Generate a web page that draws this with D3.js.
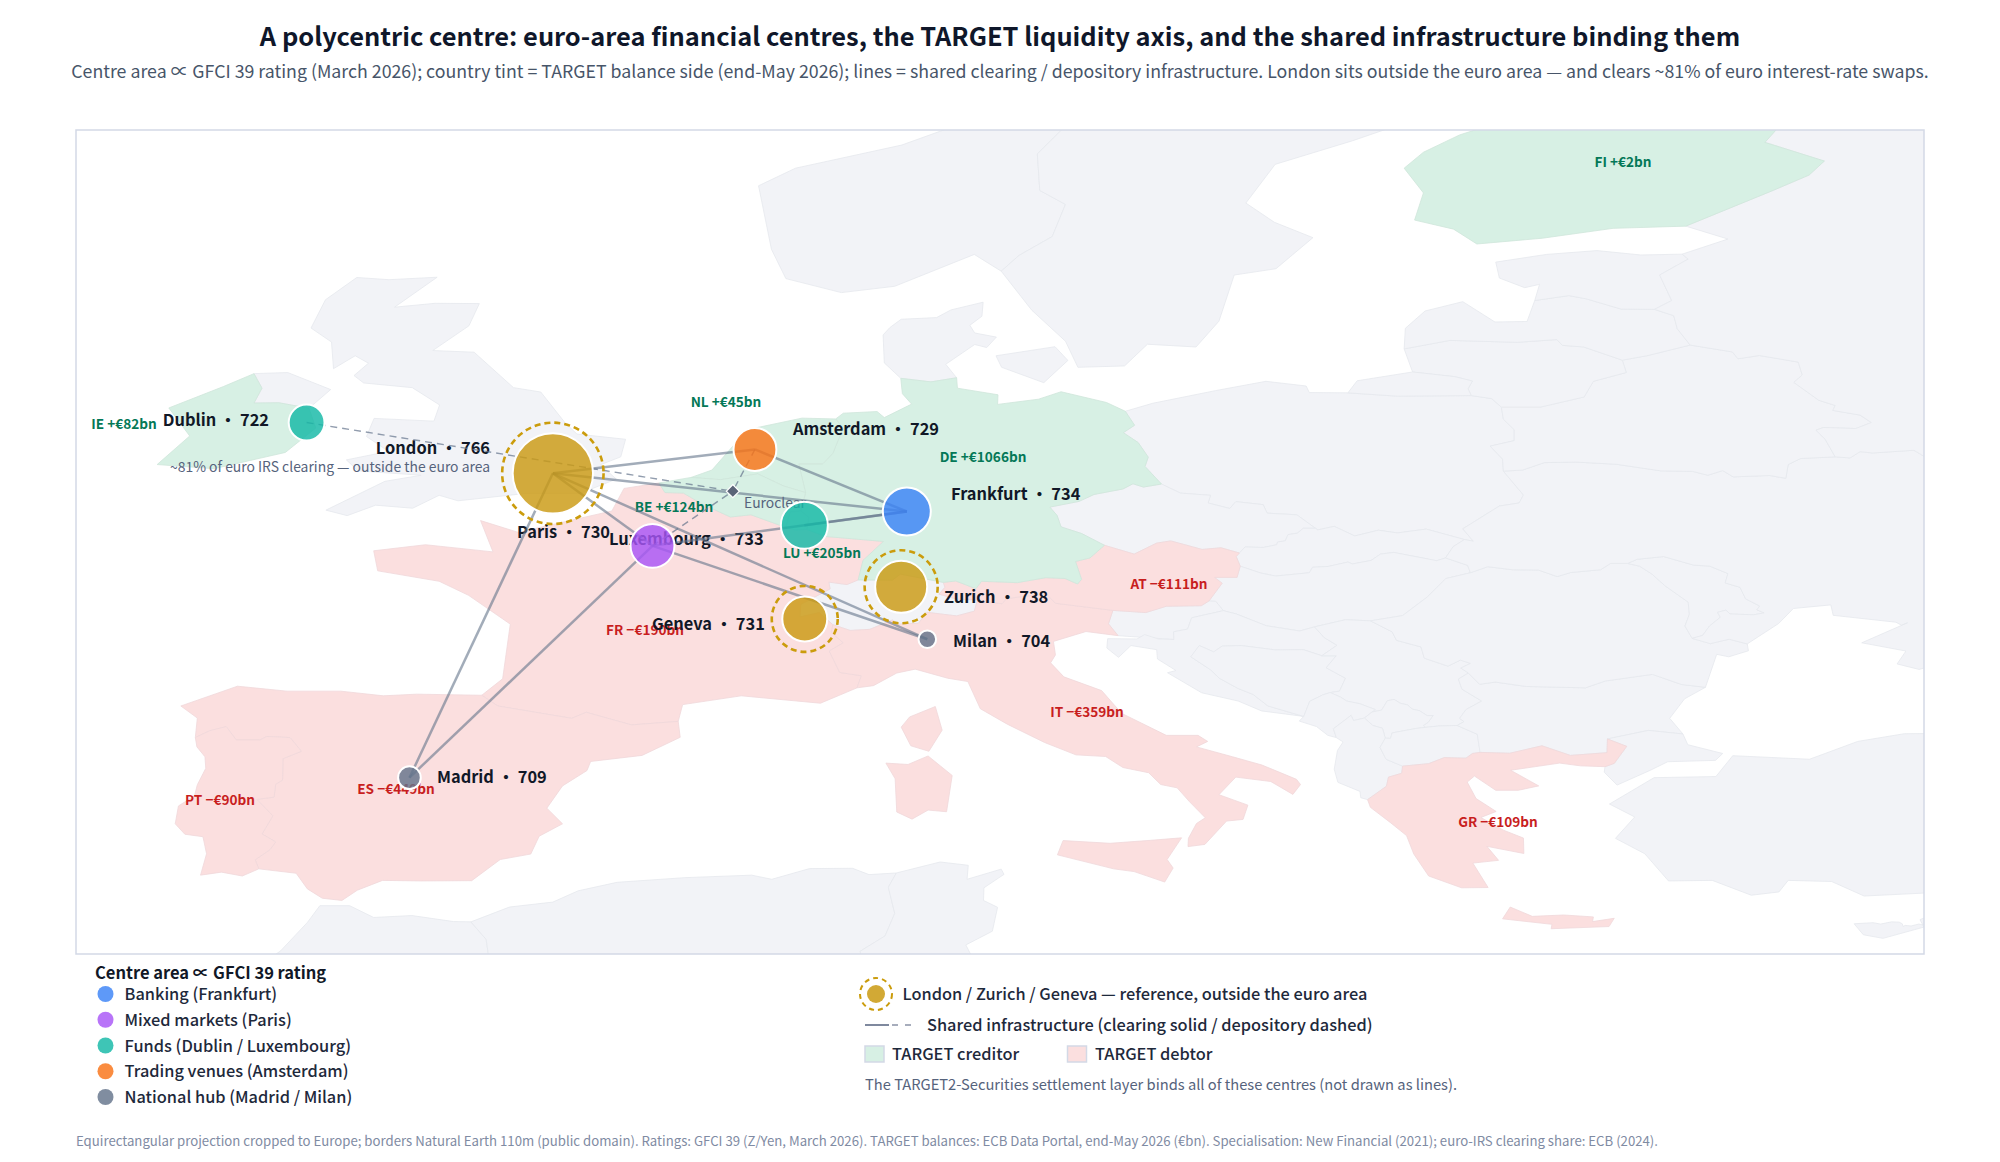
<!DOCTYPE html>
<html>
<head>
<meta charset="utf-8">
<title>A polycentric centre</title>
<style>
    html, body { margin: 0; background: #fff; }
    svg { display: block; font-family: "Noto Sans CJK SC", "Noto Sans", sans-serif; }
    .land { stroke-width: .8px; stroke-linejoin: round; }
    .title { font-size: 25.45px; font-weight: 700; fill: #0f172a; }
    .subtitle { font-size: 17.75px; fill: #475569; }
    .centre-label { font-size: 16.4px; font-weight: 700; fill: #111827; dominant-baseline: central; }
    .balance { font-size: 13.6px; font-weight: 700; text-anchor: middle; dominant-baseline: central; }
    .note { font-size: 13.9px; fill: #56637c; dominant-baseline: central; }
    .note-wide { font-size: 14.7px; fill: #56637c; dominant-baseline: central; }
    .legend-head { font-size: 16.5px; font-weight: 700; fill: #111827; dominant-baseline: central; }
    .legend-text { font-size: 16.35px; font-weight: 500; fill: #1e293b; dominant-baseline: central; }
    .footer { font-size: 13.19px; fill: #7f8ba3; dominant-baseline: central; }
</style>
</head>
<body>
<div id="chart"></div>
<script src="https://cdnjs.cloudflare.com/ajax/libs/d3/7.8.5/d3.min.js"></script>
<script>
// Country outlines, lon/lat
var france = [[[9.56,42.15],[9.23,41.38],[8.78,41.58],[8.54,42.26],[8.75,42.63],[9.39,43.01]],
    [[3.59,50.38],[4.29,49.91],[4.8,49.99],[5.67,49.53],[5.9,49.44],[6.19,49.46],[6.66,49.2],[8.1,49.02],[7.59,48.33],[7.47,47.62],[7.19,47.45],[6.74,47.54],[6.77,47.29],[6.04,46.73],[6.02,46.27],[6.5,46.43],[6.84,45.99],[6.8,45.71],[7.1,45.33],[6.75,45.03],[7.01,44.25],[7.55,44.13],[7.44,43.69],[6.53,43.13],[4.56,43.4],[3.1,43.08],[2.99,42.47],[1.83,42.34],[0.7,42.8],[0.34,42.58],[-1.5,43.03],[-1.9,43.42],[-1.38,44.02],[-1.19,46.01],[-2.23,47.06],[-2.96,47.57],[-4.49,47.95],[-4.59,48.68],[-3.3,48.9],[-1.62,48.64],[-1.93,49.78],[-0.99,49.35],[1.34,50.13],[1.64,50.95],[2.51,51.15],[2.66,50.8],[3.12,50.78]]];
var spain = [[[-9.03,41.88],[-8.98,42.59],[-9.39,43.03],[-7.98,43.75],[-6.75,43.57],[-5.41,43.57],[-4.35,43.4],[-3.52,43.46],[-1.9,43.42],[-1.5,43.03],[0.34,42.58],[0.7,42.8],[1.83,42.34],[2.99,42.47],[3.04,41.89],[2.09,41.23],[0.81,41.01],[0.72,40.68],[0.11,40.12],[-0.28,39.31],[0.11,38.74],[-0.47,38.29],[-0.68,37.64],[-1.44,37.44],[-2.15,36.67],[-3.42,36.66],[-4.37,36.68],[-5,36.32],[-5.38,35.95],[-5.87,36.03],[-6.24,36.37],[-6.52,36.94],[-7.45,37.1],[-7.54,37.43],[-7.17,37.8],[-7.03,38.08],[-7.37,38.37],[-7.1,39.03],[-7.5,39.63],[-7.07,39.71],[-7.03,40.18],[-6.86,40.33],[-6.85,41.11],[-6.39,41.38],[-6.67,41.88],[-7.25,41.92],[-7.42,41.79],[-8.01,41.79],[-8.26,42.28],[-8.67,42.13]]];
var portugal = [[[-9.03,41.88],[-8.67,42.13],[-8.26,42.28],[-8.01,41.79],[-7.42,41.79],[-7.25,41.92],[-6.67,41.88],[-6.39,41.38],[-6.85,41.11],[-6.86,40.33],[-7.03,40.18],[-7.07,39.71],[-7.5,39.63],[-7.1,39.03],[-7.37,38.37],[-7.03,38.08],[-7.17,37.8],[-7.54,37.43],[-7.45,37.1],[-7.86,36.84],[-8.38,36.98],[-8.9,36.87],[-8.75,37.65],[-8.84,38.27],[-9.29,38.36],[-9.53,38.74],[-9.45,39.39],[-9.05,39.76],[-8.98,40.16],[-8.77,40.76],[-8.79,41.18],[-8.99,41.54]]];
var italy = [[[15.52,38.23],[15.16,37.44],[15.31,37.13],[15.1,36.62],[14.34,37],[13.83,37.1],[12.43,37.61],[12.57,38.13],[13.74,38.03],[14.76,38.14]],
    [[9.21,41.21],[9.81,40.5],[9.67,39.18],[9.21,39.24],[8.81,38.91],[8.43,39.17],[8.39,40.38],[8.16,40.95],[8.71,40.9]],
    [[12.38,46.77],[13.81,46.51],[13.7,46.02],[13.94,45.59],[13.14,45.74],[12.33,45.38],[12.38,44.89],[12.26,44.6],[12.59,44.09],[13.53,43.59],[14.03,42.76],[15.14,41.96],[15.93,41.96],[16.17,41.74],[15.89,41.54],[16.79,41.18],[17.52,40.88],[18.38,40.36],[18.48,40.17],[18.29,39.81],[17.74,40.28],[16.87,40.44],[16.45,39.8],[17.17,39.42],[17.05,38.9],[16.64,38.84],[16.1,37.99],[15.68,37.91],[15.69,38.21],[15.89,38.75],[16.11,38.96],[15.72,39.54],[15.41,40.05],[15,40.17],[14.7,40.6],[14.06,40.79],[13.63,41.19],[12.89,41.25],[12.11,41.7],[11.19,42.36],[10.51,42.93],[10.2,43.92],[9.7,44.04],[8.89,44.37],[8.43,44.23],[7.85,43.77],[7.44,43.69],[7.55,44.13],[7.01,44.25],[6.75,45.03],[7.1,45.33],[6.8,45.71],[6.84,45.99],[7.27,45.78],[7.76,45.82],[8.32,46.16],[8.49,46.01],[8.97,46.04],[9.18,46.44],[9.92,46.31],[10.36,46.48],[10.44,46.89],[11.05,46.75],[11.16,46.94],[12.15,47.12]]];
var germany = [[[9.92,54.98],[9.94,54.6],[10.95,54.36],[10.94,54.01],[11.96,54.2],[12.52,54.47],[13.65,54.08],[14.12,53.76],[14.35,53.25],[14.07,52.98],[14.44,52.62],[14.69,52.09],[14.61,51.75],[15.02,51.11],[14.57,51],[14.31,51.12],[14.06,50.93],[13.34,50.73],[12.97,50.48],[12.24,50.27],[12.42,49.97],[12.52,49.55],[13.03,49.31],[13.6,48.88],[13.24,48.42],[12.88,48.29],[13.03,47.64],[12.93,47.47],[12.62,47.67],[12.14,47.7],[11.43,47.52],[10.54,47.57],[10.4,47.3],[9.9,47.58],[9.59,47.53],[8.52,47.83],[8.32,47.61],[7.47,47.62],[7.59,48.33],[8.1,49.02],[6.66,49.2],[6.19,49.46],[6.24,49.9],[6.04,50.13],[6.16,50.8],[5.99,51.85],[6.59,51.85],[6.84,52.23],[7.09,53.14],[6.91,53.48],[7.1,53.69],[7.94,53.75],[8.12,53.53],[8.8,54.02],[8.57,54.4],[8.53,54.96],[9.28,54.83]]];
var belgium = [[[3.31,51.35],[4.05,51.27],[4.97,51.48],[5.61,51.04],[6.16,50.8],[6.04,50.13],[5.78,50.09],[5.67,49.53],[4.8,49.99],[4.29,49.91],[3.59,50.38],[3.12,50.78],[2.66,50.8],[2.51,51.15]]];
var netherlands = [[[6.07,53.51],[6.91,53.48],[7.09,53.14],[6.84,52.23],[6.59,51.85],[5.99,51.85],[6.16,50.8],[5.61,51.04],[4.97,51.48],[4.05,51.27],[3.31,51.35],[3.83,51.62],[4.71,53.09]]];
var luxembourg = [[[6.04,50.13],[6.24,49.9],[6.19,49.46],[5.9,49.44],[5.67,49.53],[5.78,50.09]]];
var ireland = [[[-6.2,53.87],[-6.03,53.15],[-6.79,52.26],[-8.56,51.67],[-9.98,51.82],[-9.17,52.86],[-9.69,53.88],[-8.33,54.66],[-7.57,55.13],[-7.37,54.6],[-7.57,54.06],[-6.95,54.07]]];
var finland = [[[28.59,69.06],[28.45,68.36],[29.98,67.7],[29.05,66.94],[30.22,65.81],[29.54,64.95],[30.44,64.2],[30.04,63.55],[31.52,62.87],[31.14,62.36],[30.21,61.78],[28.07,60.5],[26.26,60.42],[24.5,60.06],[22.87,59.85],[22.29,60.39],[21.32,60.72],[21.54,61.71],[21.06,62.61],[21.54,63.19],[22.44,63.82],[24.73,64.9],[25.4,65.11],[25.29,65.53],[23.9,66.01],[23.57,66.4],[23.54,67.94],[21.98,68.62],[20.65,69.11]]];
var austria = [[[16.98,48.12],[16.9,47.71],[16.34,47.71],[16.53,47.5],[16.2,46.85],[16.01,46.68],[15.14,46.66],[14.63,46.43],[13.81,46.51],[12.38,46.77],[12.15,47.12],[11.16,46.94],[11.05,46.75],[10.44,46.89],[9.93,46.92],[9.48,47.1],[9.63,47.35],[9.59,47.53],[9.9,47.58],[10.4,47.3],[10.54,47.57],[11.43,47.52],[12.14,47.7],[12.62,47.67],[12.93,47.47],[13.03,47.64],[12.88,48.29],[13.24,48.42],[13.6,48.88],[14.34,48.56],[14.9,48.96],[15.25,49.04],[16.03,48.73],[16.5,48.79],[16.96,48.6],[16.88,48.47]]];
var greece = [[[23.7,35.71],[24.25,35.37],[25.03,35.42],[25.77,35.35],[25.75,35.18],[26.29,35.3],[26.16,35],[24.72,34.92],[24.74,35.08],[23.51,35.28]],
    [[26.6,41.56],[26.29,40.94],[26.06,40.82],[25.45,40.85],[24.93,40.95],[23.71,40.69],[24.41,40.12],[23.9,39.96],[23.34,39.96],[22.81,40.48],[22.63,40.26],[22.85,39.66],[23.35,39.19],[22.97,38.97],[23.53,38.51],[24.03,38.22],[24.04,37.66],[23.12,37.92],[23.41,37.41],[22.77,37.31],[23.15,36.42],[22.49,36.41],[21.67,36.84],[21.3,37.64],[21.12,38.31],[20.73,38.77],[20.22,39.34],[20.15,39.62],[20.62,40.11],[20.67,40.44],[21,40.58],[21.02,40.84],[21.67,40.93],[22.06,41.15],[22.6,41.13],[22.76,41.3],[22.95,41.34],[23.69,41.31],[24.49,41.58],[25.2,41.23],[26.11,41.33],[26.12,41.83]]];
var uk = [[[-5.66,54.55],[-6.2,53.87],[-6.95,54.07],[-7.57,54.06],[-7.37,54.6],[-7.57,55.13],[-6.73,55.17]],
    [[-3.01,58.64],[-4.07,57.55],[-3.06,57.69],[-1.96,57.68],[-2.22,56.87],[-3.12,55.97],[-2.09,55.91],[-1.11,54.62],[-0.43,54.46],[0.18,53.33],[0.47,52.93],[1.68,52.74],[1.56,52.1],[1.05,51.81],[1.45,51.29],[0.55,50.77],[-0.79,50.77],[-2.49,50.5],[-2.96,50.7],[-3.62,50.23],[-4.54,50.34],[-5.25,49.96],[-5.78,50.16],[-4.31,51.21],[-3.41,51.43],[-4.98,51.59],[-5.27,51.99],[-4.22,52.3],[-4.77,52.84],[-4.58,53.5],[-3.09,53.4],[-2.95,53.99],[-3.63,54.62],[-4.84,54.79],[-5.08,55.06],[-4.72,55.51],[-5.05,55.78],[-5.59,55.31],[-5.64,56.28],[-6.15,56.79],[-5.79,57.82],[-5.01,58.63],[-4.21,58.55]]];
var switzerland = [[[9.59,47.53],[9.63,47.35],[9.48,47.1],[9.93,46.92],[10.44,46.89],[10.36,46.48],[9.92,46.31],[9.18,46.44],[8.97,46.04],[8.49,46.01],[8.32,46.16],[7.76,45.82],[7.27,45.78],[6.84,45.99],[6.5,46.43],[6.02,46.27],[6.04,46.73],[6.77,47.29],[6.74,47.54],[7.19,47.45],[7.47,47.62],[8.32,47.61],[8.52,47.83]]];
var norway = [[[13.56,64.79],[13.92,64.45],[13.57,64.05],[12.58,64.07],[11.93,63.13],[11.99,61.8],[12.63,61.29],[12.3,60.12],[11.47,59.43],[11.03,58.86],[10.36,59.47],[8.38,58.31],[7.05,58.08],[5.67,58.59],[5.31,59.66],[4.99,61.97],[5.91,62.61],[8.55,63.45],[10.53,64.49]]];
var sweden = [[[11.03,58.86],[11.47,59.43],[12.3,60.12],[12.63,61.29],[11.99,61.8],[11.93,63.13],[12.58,64.07],[13.57,64.05],[13.92,64.45],[13.56,64.79],[15.11,66.19],[23.57,66.4],[23.9,66.01],[22.18,65.72],[21.21,65.03],[21.37,64.41],[19.78,63.61],[17.85,62.75],[17.12,61.34],[17.83,60.64],[18.79,60.08],[17.87,58.95],[16.83,58.72],[16.45,57.04],[15.88,56.1],[14.67,56.2],[14.1,55.41],[12.94,55.36],[12.63,56.31],[11.79,57.44]]];
var denmark = [[[12.69,55.61],[12.09,54.8],[11.04,55.36],[10.9,55.78],[12.37,56.11]],
    [[10.91,56.46],[10.67,56.08],[10.37,56.19],[9.65,55.47],[9.92,54.98],[9.28,54.83],[8.53,54.96],[8.12,55.52],[8.09,56.54],[8.26,56.81],[8.54,57.11],[9.42,57.17],[9.78,57.45],[10.58,57.73],[10.55,57.22],[10.25,56.89],[10.37,56.61]]];
var poland = [[[15.02,51.11],[14.61,51.75],[14.69,52.09],[14.44,52.62],[14.07,52.98],[14.35,53.25],[14.12,53.76],[14.8,54.05],[16.36,54.51],[17.62,54.85],[18.62,54.68],[18.7,54.44],[19.66,54.43],[20.89,54.31],[22.73,54.33],[23.24,54.22],[23.48,53.91],[23.53,53.47],[23.8,53.09],[23.8,52.69],[23.2,52.49],[23.51,52.02],[23.53,51.58],[24.03,50.71],[23.92,50.42],[23.43,50.31],[22.52,49.48],[22.78,49.03],[22.56,49.09],[21.61,49.47],[20.89,49.33],[20.42,49.43],[19.83,49.22],[19.32,49.57],[18.91,49.44],[18.85,49.5],[18.39,49.99],[17.65,50.05],[17.55,50.36],[16.87,50.47],[16.72,50.22],[16.18,50.42],[16.24,50.7],[15.49,50.78]]];
var czechia = [[[16.96,48.6],[16.5,48.79],[16.03,48.73],[15.25,49.04],[14.9,48.96],[14.34,48.56],[13.6,48.88],[13.03,49.31],[12.52,49.55],[12.42,49.97],[12.24,50.27],[12.97,50.48],[13.34,50.73],[14.06,50.93],[14.31,51.12],[14.57,51],[15.02,51.11],[15.49,50.78],[16.24,50.7],[16.18,50.42],[16.72,50.22],[16.87,50.47],[17.55,50.36],[17.65,50.05],[18.39,49.99],[18.85,49.5],[18.55,49.5],[18.4,49.32],[18.17,49.27],[18.1,49.04],[17.91,49],[17.89,48.9],[17.55,48.8],[17.1,48.82]]];
var slovakia = [[[18.85,49.5],[18.91,49.44],[19.32,49.57],[19.83,49.22],[20.42,49.43],[20.89,49.33],[21.61,49.47],[22.56,49.09],[22.28,48.83],[22.09,48.42],[21.87,48.32],[20.8,48.62],[20.47,48.56],[20.24,48.33],[19.77,48.2],[19.66,48.27],[19.17,48.11],[18.78,48.08],[18.7,47.88],[17.86,47.76],[17.49,47.87],[16.98,48.12],[16.88,48.47],[16.96,48.6],[17.1,48.82],[17.55,48.8],[17.89,48.9],[17.91,49],[18.1,49.04],[18.17,49.27],[18.4,49.32],[18.55,49.5]]];
var hungary = [[[16.2,46.85],[16.53,47.5],[16.34,47.71],[16.9,47.71],[16.98,48.12],[17.49,47.87],[17.86,47.76],[18.7,47.88],[18.78,48.08],[19.17,48.11],[19.66,48.27],[19.77,48.2],[20.24,48.33],[20.47,48.56],[20.8,48.62],[21.87,48.32],[22.09,48.42],[22.64,48.15],[22.71,47.88],[22.1,47.67],[21.63,46.99],[21.02,46.32],[20.22,46.13],[19.6,46.17],[18.83,45.91],[18.46,45.76],[17.63,45.95],[16.88,46.38],[16.56,46.5],[16.37,46.84]]];
var slovenia = [[[13.81,46.51],[14.63,46.43],[15.14,46.66],[16.01,46.68],[16.2,46.85],[16.37,46.84],[16.56,46.5],[15.77,46.24],[15.67,45.83],[15.32,45.73],[15.33,45.45],[13.94,45.59],[13.7,46.02]]];
var croatia = [[[18.83,45.91],[19.07,45.52],[19.39,45.24],[19.01,44.86],[18.55,45.08],[17.86,45.07],[17,45.23],[16.53,45.21],[16.32,45],[15.96,45.23],[15.75,44.82],[16.24,44.35],[16.46,44.04],[16.92,43.67],[17.3,43.45],[17.67,43.03],[18.56,42.65],[17.51,42.85],[16.93,43.21],[16.02,43.51],[15.17,44.24],[15.38,44.32],[14.92,44.74],[14.9,45.08],[14.26,45.23],[13.95,44.8],[13.66,45.14],[13.68,45.48],[14.41,45.47],[14.6,45.63],[14.94,45.47],[15.33,45.45],[15.32,45.73],[15.67,45.83],[15.77,46.24],[16.56,46.5],[16.88,46.38],[17.63,45.95],[18.46,45.76]]];
var bosnia = [[[19.01,44.86],[19.37,44.86],[19.12,44.42],[19.6,44.04],[19.45,43.57],[19.22,43.52],[19.03,43.43],[18.71,43.2],[18.56,42.65],[17.67,43.03],[17.3,43.45],[16.92,43.67],[16.46,44.04],[16.24,44.35],[15.75,44.82],[15.96,45.23],[16.32,45],[16.53,45.21],[17,45.23],[17.86,45.07],[18.55,45.08]]];
var serbia = [[[20.87,45.42],[21.48,45.18],[21.56,44.77],[22.15,44.48],[22.46,44.7],[22.71,44.58],[22.47,44.41],[22.66,44.23],[22.41,44.01],[22.5,43.64],[22.99,43.21],[22.6,42.9],[22.44,42.58],[22.55,42.46],[22.38,42.32],[21.92,42.3],[21.58,42.25],[21.54,42.32],[21.66,42.44],[21.78,42.68],[21.63,42.68],[21.44,42.86],[21.27,42.91],[21.14,43.07],[20.96,43.13],[20.81,43.27],[20.64,43.22],[20.5,42.88],[20.26,42.81],[20.34,42.9],[19.96,43.11],[19.63,43.21],[19.48,43.35],[19.22,43.52],[19.45,43.57],[19.6,44.04],[19.12,44.42],[19.37,44.86],[19.01,44.86],[19.39,45.24],[19.07,45.52],[18.83,45.91],[19.6,46.17],[20.22,46.13],[20.76,45.73]]];
var montenegro = [[[19.8,42.5],[19.74,42.69],[19.3,42.2],[19.37,41.88],[19.16,41.96],[18.88,42.28],[18.45,42.48],[18.56,42.65],[18.71,43.2],[19.03,43.43],[19.22,43.52],[19.48,43.35],[19.63,43.21],[19.96,43.11],[20.34,42.9],[20.26,42.81],[20.07,42.59]]];
var kosovo = [[[20.76,42.05],[20.72,41.85],[20.59,41.86],[20.52,42.22],[20.28,42.32],[20.07,42.59],[20.26,42.81],[20.5,42.88],[20.64,43.22],[20.81,43.27],[20.96,43.13],[21.14,43.07],[21.27,42.91],[21.44,42.86],[21.63,42.68],[21.78,42.68],[21.66,42.44],[21.54,42.32],[21.58,42.25],[21.35,42.21]]];
var albania = [[[20.59,41.86],[20.46,41.52],[20.61,41.09],[21.02,40.84],[21,40.58],[20.67,40.44],[20.62,40.11],[20.15,39.62],[19.98,39.69],[19.96,39.92],[19.41,40.25],[19.32,40.73],[19.4,41.41],[19.54,41.72],[19.37,41.88],[19.3,42.2],[19.74,42.69],[19.8,42.5],[20.07,42.59],[20.28,42.32],[20.52,42.22]]];
var macedonia = [[[20.59,41.86],[20.72,41.85],[20.76,42.05],[21.35,42.21],[21.58,42.25],[21.92,42.3],[22.38,42.32],[22.88,42],[22.95,41.34],[22.76,41.3],[22.6,41.13],[22.06,41.15],[21.67,40.93],[21.02,40.84],[20.61,41.09],[20.46,41.52]]];
var bulgaria = [[[22.66,44.23],[22.94,43.82],[23.33,43.9],[24.1,43.74],[25.57,43.69],[26.07,43.94],[27.24,44.18],[27.97,43.81],[28.56,43.71],[28.04,43.29],[27.67,42.58],[28,42.01],[27.14,42.14],[26.12,41.83],[26.11,41.33],[25.2,41.23],[24.49,41.58],[23.69,41.31],[22.95,41.34],[22.88,42],[22.38,42.32],[22.55,42.46],[22.44,42.58],[22.6,42.9],[22.99,43.21],[22.5,43.64],[22.41,44.01]]];
var romania = [[[22.71,47.88],[23.14,48.1],[23.76,47.99],[24.4,47.98],[24.87,47.74],[25.21,47.89],[25.95,47.99],[26.2,48.22],[26.62,48.22],[26.92,48.12],[27.23,47.83],[27.55,47.41],[28.13,46.81],[28.16,46.37],[28.05,45.94],[28.23,45.49],[28.68,45.3],[29.15,45.46],[29.6,45.29],[29.63,45.04],[29.14,44.82],[28.84,44.91],[28.56,43.71],[27.97,43.81],[27.24,44.18],[26.07,43.94],[25.57,43.69],[24.1,43.74],[23.33,43.9],[22.94,43.82],[22.66,44.23],[22.47,44.41],[22.71,44.58],[22.46,44.7],[22.15,44.48],[21.56,44.77],[21.48,45.18],[20.87,45.42],[20.76,45.73],[20.22,46.13],[21.02,46.32],[21.63,46.99],[22.1,47.67]]];
var moldova = [[[26.62,48.22],[26.86,48.37],[27.52,48.47],[28.26,48.16],[28.67,48.12],[29.12,47.85],[29.05,47.51],[29.42,47.35],[29.56,46.93],[29.91,46.67],[29.84,46.53],[30.02,46.42],[29.76,46.35],[29.17,46.38],[29.07,46.52],[28.86,46.44],[28.93,46.26],[28.66,45.94],[28.49,45.6],[28.23,45.49],[28.05,45.94],[28.16,46.37],[28.13,46.81],[27.55,47.41],[27.23,47.83],[26.92,48.12]]];
var ukraine = [[[31.79,52.1],[32.16,52.06],[32.41,52.29],[32.72,52.24],[33.75,52.34],[34.39,51.77],[34.14,51.57],[34.22,51.26],[35.02,51.21],[35.38,50.77],[35.36,50.58],[36.63,50.23],[37.39,50.38],[38.01,49.92],[38.59,49.93],[40.07,49.6],[40.08,49.31],[39.67,48.78],[39.9,48.23],[39.74,47.9],[38.77,47.83],[38.26,47.55],[38.22,47.1],[37.43,47.02],[36.76,46.7],[35.82,46.65],[34.96,46.27],[35.02,45.74],[36.5,45.4],[35.24,44.94],[33.88,44.36],[33.33,44.56],[33.55,45.03],[32.45,45.33],[33.59,46.06],[33.44,45.97],[33.3,46.08],[31.74,46.33],[31.68,46.71],[30.75,46.58],[30.38,46.03],[29.6,45.29],[29.15,45.46],[28.68,45.3],[28.23,45.49],[28.49,45.6],[28.66,45.94],[28.93,46.26],[28.86,46.44],[29.07,46.52],[29.17,46.38],[29.76,46.35],[30.02,46.42],[29.84,46.53],[29.91,46.67],[29.56,46.93],[29.42,47.35],[29.05,47.51],[29.12,47.85],[28.67,48.12],[28.26,48.16],[27.52,48.47],[26.86,48.37],[26.62,48.22],[26.2,48.22],[25.95,47.99],[25.21,47.89],[24.87,47.74],[24.4,47.98],[23.76,47.99],[23.14,48.1],[22.71,47.88],[22.64,48.15],[22.09,48.42],[22.28,48.83],[22.56,49.09],[22.78,49.03],[22.52,49.48],[23.43,50.31],[23.92,50.42],[24.03,50.71],[23.53,51.58],[24.01,51.62],[24.55,51.89],[25.33,51.91],[26.34,51.83],[27.45,51.59],[28.24,51.57],[28.62,51.43],[28.99,51.6],[29.25,51.37],[30.16,51.42],[30.56,51.32],[30.62,51.82],[30.93,52.04]]];
var belarus = [[[23.48,53.91],[24.45,53.91],[25.54,54.28],[25.77,54.85],[26.59,55.17],[26.49,55.62],[27.1,55.78],[28.18,56.17],[29.23,55.92],[29.37,55.67],[29.9,55.79],[30.87,55.55],[30.97,55.08],[30.76,54.81],[31.38,54.16],[31.79,53.97],[31.73,53.79],[32.41,53.62],[32.69,53.35],[32.3,53.13],[31.5,53.17],[31.31,53.07],[31.54,52.74],[31.79,52.1],[30.93,52.04],[30.62,51.82],[30.56,51.32],[30.16,51.42],[29.25,51.37],[28.99,51.6],[28.62,51.43],[28.24,51.57],[27.45,51.59],[26.34,51.83],[25.33,51.91],[24.55,51.89],[24.01,51.62],[23.53,51.58],[23.51,52.02],[23.2,52.49],[23.8,52.69],[23.8,53.09],[23.53,53.47]]];
var lithuania = [[[22.73,54.33],[22.65,54.58],[22.76,54.86],[22.32,55.02],[21.27,55.19],[21.06,56.03],[22.2,56.34],[23.88,56.27],[24.86,56.37],[25,56.16],[25.53,56.1],[26.49,55.62],[26.59,55.17],[25.77,54.85],[25.54,54.28],[24.45,53.91],[23.48,53.91],[23.24,54.22]]];
var latvia = [[[21.06,56.03],[21.09,56.78],[21.58,57.41],[22.52,57.75],[23.32,57.01],[24.12,57.03],[24.31,57.79],[25.16,57.97],[25.6,57.85],[26.46,57.48],[27.29,57.47],[27.77,57.24],[27.86,56.76],[28.18,56.17],[27.1,55.78],[26.49,55.62],[25.53,56.1],[25,56.16],[24.86,56.37],[23.88,56.27],[22.2,56.34]]];
var estonia = [[[24.31,57.79],[24.43,58.38],[24.06,58.26],[23.43,58.61],[23.34,59.19],[24.6,59.47],[25.86,59.61],[26.95,59.45],[27.98,59.48],[28.13,59.3],[27.42,58.72],[27.72,57.79],[27.29,57.47],[26.46,57.48],[25.6,57.85],[25.16,57.97]]];
var kaliningrad = [[[21.27,55.19],[22.32,55.02],[22.76,54.86],[22.65,54.58],[22.73,54.33],[20.89,54.31],[19.66,54.43],[19.89,54.87]]];
var russia = [[[27.98,59.48],[29.12,60.03],[28.07,60.5],[30.21,61.78],[31.14,62.36],[31.52,62.87],[30.04,63.55],[30.44,64.2],[29.54,64.95],[30.22,65.81],[40,66],[40,47],[38.22,47.1],[38.26,47.55],[38.77,47.83],[39.74,47.9],[39.9,48.23],[39.67,48.78],[40.08,49.31],[40.07,49.6],[38.59,49.93],[38.01,49.92],[37.39,50.38],[36.63,50.23],[35.36,50.58],[35.38,50.77],[35.02,51.21],[34.22,51.26],[34.14,51.57],[34.39,51.77],[33.75,52.34],[32.72,52.24],[32.41,52.29],[32.16,52.06],[31.79,52.1],[31.54,52.74],[31.31,53.07],[31.5,53.17],[32.3,53.13],[32.69,53.35],[32.41,53.62],[31.73,53.79],[31.79,53.97],[31.38,54.16],[30.76,54.81],[30.97,55.08],[30.87,55.55],[29.9,55.79],[29.37,55.67],[29.23,55.92],[28.18,56.17],[27.86,56.76],[27.77,57.24],[27.29,57.47],[27.72,57.79],[27.42,58.72],[28.13,59.3]]];
var turkey = [[[36.91,41.34],[36.16,36.65],[35.55,36.57],[34.71,36.8],[34.03,36.22],[32.51,36.11],[31.7,36.64],[30.62,36.68],[30.39,36.26],[29.7,36.14],[28.73,36.68],[27.64,36.66],[27.05,37.65],[26.32,38.21],[26.8,38.99],[26.17,39.46],[27.28,40.42],[28.82,40.46],[29.24,41.22],[31.15,41.09],[32.35,41.74],[33.51,42.02],[35.17,42.04]],
    [[26.12,41.83],[27.14,42.14],[28,42.01],[28.12,41.62],[28.99,41.3],[28.81,41.05],[27.62,41],[27.19,40.69],[26.36,40.15],[26.04,40.62],[26.06,40.82],[26.29,40.94],[26.6,41.56]]];
var cyprus = [[[34.58,35.67],[33.9,35.25],[34,34.98],[32.98,34.57],[32.49,34.7],[32.26,35.1],[32.73,35.14],[32.92,35.09],[33.19,35.17],[33.38,35.16],[33.46,35.1],[33.48,35],[33.53,35.04],[33.68,35.02],[33.87,35.09],[33.97,35.06]]];
var morocco = [[[-5.93,35.76],[-5.19,35.76],[-4.59,35.33],[-3.64,35.4],[-2.6,35.18],[-2.17,35.17],[-1.79,34.53],[-1.73,33.92],[-1.5,32],[-9,32],[-6.91,34.11],[-6.24,35.15]]];
var algeria = [[[-2.17,35.17],[-1.21,35.71],[-0.13,35.89],[0.5,36.3],[1.47,36.61],[3.16,36.78],[4.82,36.87],[5.32,36.72],[6.26,37.11],[7.33,37.12],[7.74,36.89],[8.42,36.95],[8.22,36.43],[8.38,35.48],[8.14,34.66],[7.52,34.1],[7.61,33.34],[8.43,32.75],[8.5,32],[-1.5,32],[-1.73,33.92],[-1.79,34.53]]];
var tunisia = [[[8.43,32.75],[7.61,33.34],[7.52,34.1],[8.14,34.66],[8.38,35.48],[8.22,36.43],[8.42,36.95],[9.51,37.35],[10.21,37.23],[10.18,36.72],[11.03,37.09],[11.1,36.9],[10.6,36.41],[10.59,35.95],[10.94,35.7],[10.81,34.83],[10.15,34.33],[10.34,33.79],[10.86,33.77],[11.11,33.29],[11.49,33.14],[11.43,32.37]]];

var otherLand = [uk, switzerland, norway, sweden, denmark, poland, czechia, slovakia, hungary, slovenia, croatia, bosnia, serbia, montenegro, kosovo, albania, macedonia, bulgaria, romania, moldova, ukraine, belarus, lithuania, latvia, estonia, kaliningrad, russia, turkey, cyprus, morocco, algeria, tunisia];
var creditorLand = [germany, netherlands, belgium, luxembourg, ireland, finland];
var debtorLand = [france, spain, portugal, italy, austria, greece];

// TARGET balances (end-May 2026, EUR bn)
var balanceCodes = ["IE", "NL", "DE", "BE", "LU", "FI", "AT", "FR", "IT", "ES", "PT", "GR"];
var balanceValues = [82, 45, 1066, 124, 205, 2, -111, -190, -359, -449, -90, -109];

// Financial centres
var centreNames = ["Dublin", "London", "Paris", "Luxembourg", "Amsterdam", "Frankfurt", "Zurich", "Geneva", "Milan", "Madrid"];
var centreLon = [-6.26, -0.13, 2.35, 6.13, 4.9, 8.68, 8.54, 6.14, 9.19, -3.7];
var centreLat = [53.35, 51.5, 48.86, 49.61, 52.37, 50.11, 47.37, 46.2, 45.46, 40.42];
var centreRating = [722, 766, 730, 733, 729, 734, 738, 731, 704, 709];
var centreType = ["funds", "ref", "mixed", "funds", "venue", "bank", "ref", "ref", "hub", "hub"];

// Euroclear depository, Brussels
var euroclearLon = 4.35, euroclearLat = 50.85;

var clearingLinks = [["London", "Amsterdam"], ["London", "Frankfurt"], ["London", "Paris"], ["London", "Milan"], ["London", "Madrid"],
    ["Paris", "Frankfurt"], ["Paris", "Milan"], ["Paris", "Madrid"], ["Amsterdam", "Frankfurt"], ["Luxembourg", "Frankfurt"]];
var depositoryLinks = ["Dublin", "Amsterdam", "Paris"];

var legendLabels = ["Banking (Frankfurt)", "Mixed markets (Paris)", "Funds (Dublin / Luxembourg)", "Trading venues (Amsterdam)", "National hub (Madrid / Milan)"];
var legendTypes = ["bank", "mixed", "funds", "venue", "hub"];

// ---- layout and styles
var width = 2000, height = 1162;
var panel = {x0: 76, x1: 1924, y0: 130, y1: 954};
var typeColor = {bank: "#3b82f6", mixed: "#a855f7", funds: "#14b8a6", venue: "#f97316", hub: "#64748b", ref: "#ca9a12"};
var sideColor = {other: "#f2f3f7", creditor: "#d7f0e4", debtor: "#fbdfdf"};
var sideStroke = {other: "#e6e8ee", creditor: "#cfe6da", debtor: "#f0d8da"};

var centreLabelPos = {
    Dublin: [269, 419, "end"], London: [490, 447, "end"], Paris: [517, 531, "start"], Luxembourg: [609, 538, "start"],
    Amsterdam: [793, 428, "start"], Frankfurt: [951, 493, "start"], Zurich: [944, 596, "start"], Geneva: [652, 623, "start"],
    Milan: [953, 640, "start"], Madrid: [437, 776, "start"]
};
var balanceLabelPos = {
    IE: [124, 423], NL: [726, 401], DE: [983, 456], BE: [674, 506], LU: [822, 552], FI: [1623, 161],
    AT: [1169, 583], FR: [645, 629], IT: [1087, 711], ES: [396, 788], PT: [220, 799], GR: [1498, 821]
};

var x = d3.scaleLinear().domain([-12, 34]).range([panel.x0, panel.x1]);
var y = d3.scaleLinear().domain([64, 34]).range([panel.y0, panel.y1]);
var radius = d3.scaleLinear().domain([704, 766]).range([8.8, 40.2]);
var path = d3.geoPath(d3.geoTransform({
    point: function (lon, lat) { this.stream.point(x(lon), y(lat)); }
}));

var svg = d3.select("#chart").append("svg").attr("width", width).attr("height", height);

svg.append("text").attr("class", "title").attr("x", 1000).attr("y", 46).attr("text-anchor", "middle")
    .text("A polycentric centre: euro-area financial centres, the TARGET liquidity axis, and the shared infrastructure binding them");
svg.append("text").attr("class", "subtitle").attr("x", 1000).attr("y", 78).attr("text-anchor", "middle")
    .text("Centre area \u221d GFCI 39 rating (March 2026); country tint = TARGET balance side (end-May 2026); lines = shared clearing / depository infrastructure. London sits outside the euro area \u2014 and clears ~81% of euro interest-rate swaps.");

svg.append("clipPath").attr("id", "panel-clip").append("rect")
    .attr("x", panel.x0).attr("y", panel.y0).attr("width", panel.x1 - panel.x0).attr("height", panel.y1 - panel.y0);

var map = svg.append("g").attr("clip-path", "url(#panel-clip)");

function drawLand(list, side) {
    map.append("g").selectAll("path")
        .data(list)
        .enter().append("path")
        .attr("class", "land")
        .attr("fill", sideColor[side])
        .attr("stroke", sideStroke[side])
        .attr("d", function (d) {
            return path({type: "MultiPolygon", coordinates: d.map(function (ring) { return [ring.concat([ring[0]])]; })});
        });
}
drawLand(otherLand, "other");
drawLand(debtorLand, "debtor");
drawLand(creditorLand, "creditor");

svg.append("rect").attr("x", panel.x0).attr("y", panel.y0)
    .attr("width", panel.x1 - panel.x0).attr("height", panel.y1 - panel.y0)
    .attr("fill", "none").attr("stroke", "#d3d9e6").attr("stroke-width", 1.5);

// balance labels sit under everything else
svg.append("g").selectAll("text")
    .data(balanceCodes)
    .enter().append("text")
    .attr("class", "balance")
    .attr("x", function (d) { return balanceLabelPos[d][0]; })
    .attr("y", function (d) { return balanceLabelPos[d][1]; })
    .attr("fill", function (d, i) { return balanceValues[i] > 0 ? "#047857" : "#c81e1e"; })
    .text(function (d, i) {
        var v = balanceValues[i];
        return d + " " + (v > 0 ? "+" : "\u2212") + "\u20ac" + Math.abs(v) + "bn";
    });

// centre labels
svg.append("g").selectAll("text")
    .data(centreNames)
    .enter().append("text")
    .attr("class", "centre-label")
    .attr("x", function (d) { return centreLabelPos[d][0]; })
    .attr("y", function (d) { return centreLabelPos[d][1]; })
    .attr("text-anchor", function (d) { return centreLabelPos[d][2]; })
    .text(function (d, i) { return d + " \u2022 " + centreRating[i]; });

svg.append("text").attr("class", "note").attr("x", 490).attr("y", 466).attr("text-anchor", "end")
    .text("~81% of euro IRS clearing \u2014 outside the euro area");
svg.append("text").attr("class", "note").attr("x", 744).attr("y", 502).text("Euroclear");

function centrePos(name) {
    var i = centreNames.indexOf(name);
    return [x(centreLon[i]), y(centreLat[i])];
}

var lines = svg.append("g").attr("fill", "none");
lines.selectAll(".clearing")
    .data(clearingLinks)
    .enter().append("line")
    .attr("class", "clearing")
    .attr("x1", function (d) { return centrePos(d[0])[0]; })
    .attr("y1", function (d) { return centrePos(d[0])[1]; })
    .attr("x2", function (d) { return centrePos(d[1])[0]; })
    .attr("y2", function (d) { return centrePos(d[1])[1]; })
    .attr("stroke", "#64748b")
    .attr("stroke-opacity", .6)
    .attr("stroke-width", 2.5);
lines.selectAll(".depository")
    .data(depositoryLinks)
    .enter().append("line")
    .attr("class", "depository")
    .attr("x1", function (d) { return centrePos(d)[0]; })
    .attr("y1", function (d) { return centrePos(d)[1]; })
    .attr("x2", x(euroclearLon))
    .attr("y2", y(euroclearLat))
    .attr("stroke", "#64748b")
    .attr("stroke-opacity", .7)
    .attr("stroke-width", 1.4)
    .attr("stroke-dasharray", "7 5");

svg.append("path")
    .attr("d", d3.symbol().type(d3.symbolSquare).size(85)())
    .attr("transform", "translate(" + x(euroclearLon) + "," + y(euroclearLat) + ") rotate(45)")
    .attr("fill", "#5b6478").attr("stroke", "#fff").attr("stroke-width", 1.2);

// reference rings
svg.append("g").selectAll("circle")
    .data(centreNames.filter(function (d, i) { return centreType[i] === "ref"; }))
    .enter().append("circle")
    .attr("cx", function (d) { return centrePos(d)[0]; })
    .attr("cy", function (d) { return centrePos(d)[1]; })
    .attr("r", function (d) { return radius(centreRating[centreNames.indexOf(d)]) + 10.5; })
    .attr("fill", "none")
    .attr("stroke", "#cb9c0c")
    .attr("stroke-width", 2.6)
    .attr("stroke-dasharray", "6 4");

svg.append("g").selectAll("circle")
    .data(centreNames)
    .enter().append("circle")
    .attr("cx", function (d) { return centrePos(d)[0]; })
    .attr("cy", function (d) { return centrePos(d)[1]; })
    .attr("r", function (d, i) { return radius(centreRating[i]); })
    .attr("fill", function (d, i) { return typeColor[centreType[i]]; })
    .attr("fill-opacity", .82)
    .attr("stroke", "#fff")
    .attr("stroke-width", 2);

// legend, left
svg.append("text").attr("class", "legend-head").attr("x", 95).attr("y", 972).text("Centre area \u221d GFCI 39 rating");
var legendRow = d3.scaleLinear().domain([0, 4]).range([993, 1096]);
var legend = svg.append("g").selectAll("g")
    .data(legendLabels)
    .enter().append("g")
    .attr("transform", function (d, i) { return "translate(0," + legendRow(i) + ")"; });
legend.append("circle").attr("cx", 105.5).attr("cy", 1).attr("r", 8)
    .attr("fill", function (d, i) { return typeColor[legendTypes[i]]; })
    .attr("fill-opacity", .82);
legend.append("text").attr("class", "legend-text").attr("x", 124.5).text(function (d) { return d; });

// legend, right
svg.append("circle").attr("cx", 876).attr("cy", 994).attr("r", 16)
    .attr("fill", "none").attr("stroke", "#cb9c0c").attr("stroke-width", 2).attr("stroke-dasharray", "5 4");
svg.append("circle").attr("cx", 876).attr("cy", 994).attr("r", 9)
    .attr("fill", typeColor.ref).attr("fill-opacity", .85);
svg.append("text").attr("class", "legend-text").attr("x", 902.5).attr("y", 993)
    .text("London / Zurich / Geneva \u2014 reference, outside the euro area");
svg.append("line").attr("x1", 865).attr("x2", 889).attr("y1", 1025).attr("y2", 1025)
    .attr("stroke", "#7f899e").attr("stroke-width", 2);
svg.append("line").attr("x1", 892).attr("x2", 912).attr("y1", 1025).attr("y2", 1025)
    .attr("stroke", "#8a93a6").attr("stroke-width", 1.4).attr("stroke-dasharray", "6 7");
svg.append("text").attr("class", "legend-text").attr("x", 927).attr("y", 1024)
    .text("Shared infrastructure (clearing solid / depository dashed)");
svg.append("rect").attr("x", 865).attr("y", 1046).attr("width", 19).attr("height", 16)
    .attr("fill", sideColor.creditor).attr("stroke", "#d3d9e6").attr("stroke-width", 1.5);
svg.append("text").attr("class", "legend-text").attr("x", 892).attr("y", 1053).text("TARGET creditor");
svg.append("rect").attr("x", 1067.5).attr("y", 1046).attr("width", 19).attr("height", 16)
    .attr("fill", sideColor.debtor).attr("stroke", "#d3d9e6").attr("stroke-width", 1.5);
svg.append("text").attr("class", "legend-text").attr("x", 1095).attr("y", 1053).text("TARGET debtor");
svg.append("text").attr("class", "note-wide").attr("x", 865).attr("y", 1083)
    .text("The TARGET2-Securities settlement layer binds all of these centres (not drawn as lines).");

svg.append("text").attr("class", "footer").attr("x", 76).attr("y", 1140)
    .text("Equirectangular projection cropped to Europe; borders Natural Earth 110m (public domain). Ratings: GFCI 39 (Z/Yen, March 2026). TARGET balances: ECB Data Portal, end-May 2026 (\u20acbn). Specialisation: New Financial (2021); euro-IRS clearing share: ECB (2024).");
</script>
</body>
</html>
